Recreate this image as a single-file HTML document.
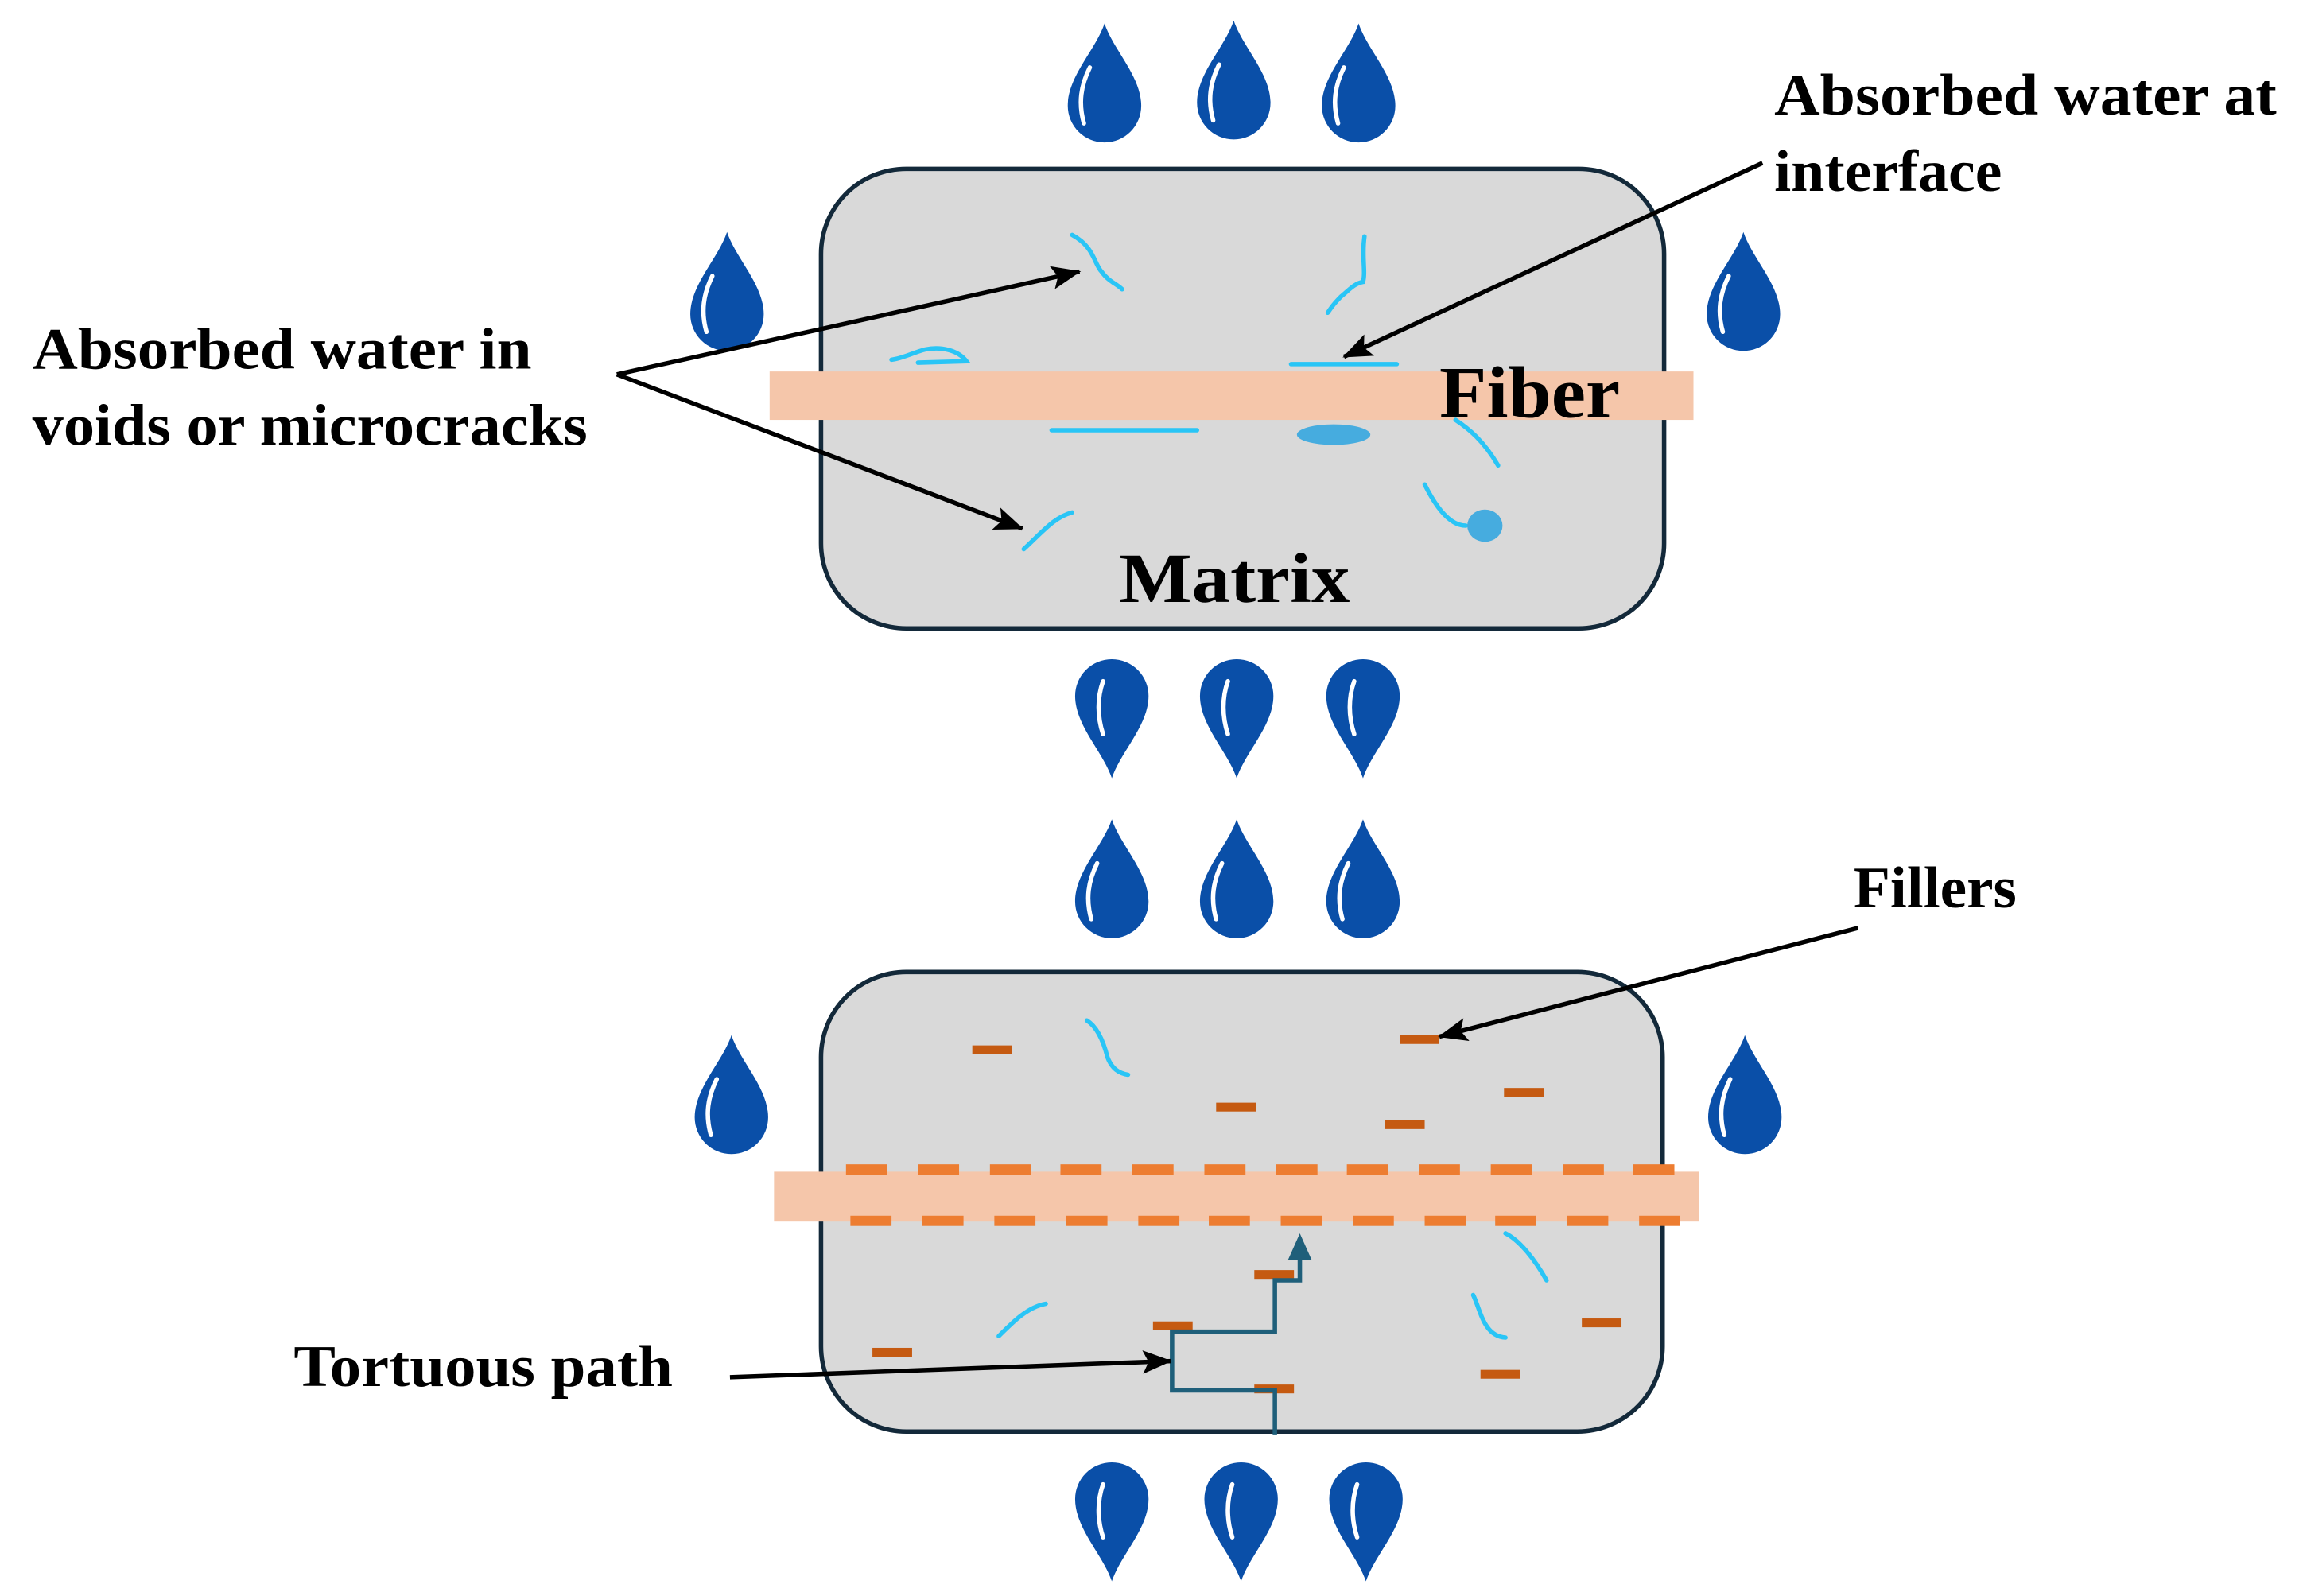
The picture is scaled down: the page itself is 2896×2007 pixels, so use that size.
<!DOCTYPE html>
<html><head><meta charset="utf-8"><style>html,body{margin:0;padding:0;background:#fff}svg{display:block}</style></head>
<body>
<svg width="2896" height="2007" viewBox="0 0 1568 1087" preserveAspectRatio="none" xmlns="http://www.w3.org/2000/svg">
<defs>
<marker id="ah" markerWidth="20" markerHeight="16" refX="19" refY="8" orient="auto" markerUnits="userSpaceOnUse" viewBox="0 0 20 16"><path d="M0,0 L20,8 L0,16 L4,8 Z" fill="#000"/></marker>
<g id="dup"><path d="M0,0 C6,18 25,36 25,56 A25,25 0 0 1 -25,56 C-25,36 -6,18 0,0 Z" fill="#0a4fa8"/><path d="M-10,30 C-16,42 -18,54 -14,68" stroke="#fff" stroke-width="3" fill="none" stroke-linecap="round"/></g>
<g id="ddn"><path d="M0,0 C6,-18 25,-36 25,-56 A25,25 0 0 0 -25,-56 C-25,-36 -6,-18 0,0 Z" fill="#0a4fa8"/><path d="M-6,-30 C-10,-42 -10,-55 -6,-66" stroke="#fff" stroke-width="3" fill="none" stroke-linecap="round"/></g>
</defs>
<rect width="1568" height="1087" fill="#fff"/>
<use href="#dup" x="752" y="16"/><use href="#dup" x="840" y="14"/><use href="#dup" x="925" y="16"/>
<use href="#dup" x="495" y="158"/><use href="#dup" x="1187" y="158"/>
<use href="#ddn" x="757" y="530"/><use href="#ddn" x="842" y="530"/><use href="#ddn" x="928" y="530"/>
<use href="#dup" x="757" y="558"/><use href="#dup" x="842" y="558"/><use href="#dup" x="928" y="558"/>
<use href="#dup" x="498" y="705"/><use href="#dup" x="1188" y="705"/>
<use href="#ddn" x="757" y="1077"/><use href="#ddn" x="845" y="1077"/><use href="#ddn" x="930" y="1077"/>

<rect x="559" y="115" width="574" height="313" rx="58" fill="#d9d9d9" stroke="#13293a" stroke-width="3"/>
<rect x="524" y="253" width="629" height="33" fill="#f5c6aa"/>
<g stroke="#29c5f6" stroke-width="3" fill="none" stroke-linecap="round">
<path d="M730,160 C745,168 745,180 750,185 C755,192 760,193 764,197"/>
<path d="M929,161 C927,175 930,185 928,192 C922,193 918,198 913,202 C908,207 906,210 904,213"/>
<path d="M607,245 C615,244 622,240 630,238 C640,236 652,238 658,246 L625,247"/>
<path d="M879,248 L951,248"/>
<path d="M716,293 L815,293"/>
<path d="M991,286 C1000,292 1010,300 1020,317"/>
<path d="M970,330 C975,340 985,358 998,358"/>
<path d="M730,349 C718,352 710,362 697,374"/>
</g>
<ellipse cx="908" cy="296" rx="25" ry="7" fill="#46acdf"/>
<ellipse cx="1011" cy="358" rx="12" ry="11" fill="#46acdf"/>
<text x="980" y="284" font-family="Liberation Serif, serif" font-weight="bold" font-size="50" textLength="123" lengthAdjust="spacingAndGlyphs">Fiber</text>
<text x="762" y="410" font-family="Liberation Serif, serif" font-weight="bold" font-size="48" textLength="157" lengthAdjust="spacingAndGlyphs">Matrix</text>
<g stroke="#000" stroke-width="3" fill="none">
<path d="M420,255 L735,185" marker-end="url(#ah)"/>
<path d="M420,255 L696,360" marker-end="url(#ah)"/>
<path d="M1200,111 L915,243" marker-end="url(#ah)"/>
</g>
<g font-family="Liberation Serif, serif" font-weight="bold" font-size="40">
<text x="22" y="251" textLength="340" lengthAdjust="spacingAndGlyphs">Absorbed water in</text>
<text x="22" y="303" textLength="378" lengthAdjust="spacingAndGlyphs">voids or microcracks</text>
<text x="1208" y="78" textLength="342" lengthAdjust="spacingAndGlyphs">Absorbed water at</text>
<text x="1208" y="130" textLength="155" lengthAdjust="spacingAndGlyphs">interface</text>
<text x="1262" y="618" textLength="111" lengthAdjust="spacingAndGlyphs">Fillers</text>
<text x="200" y="944" textLength="258" lengthAdjust="spacingAndGlyphs">Tortuous path</text>
</g>

<rect x="559" y="662" width="573" height="313" rx="58" fill="#d9d9d9" stroke="#13293a" stroke-width="3"/>
<rect x="527" y="798" width="630" height="34" fill="#f5c6aa"/>
<g fill="#ed7d31">
<rect x="576" y="793" width="28" height="7"/><rect x="625" y="793" width="28" height="7"/><rect x="674" y="793" width="28" height="7"/><rect x="722" y="793" width="28" height="7"/><rect x="771" y="793" width="28" height="7"/><rect x="820" y="793" width="28" height="7"/><rect x="869" y="793" width="28" height="7"/><rect x="917" y="793" width="28" height="7"/><rect x="966" y="793" width="28" height="7"/><rect x="1015" y="793" width="28" height="7"/><rect x="1064" y="793" width="28" height="7"/><rect x="1112" y="793" width="28" height="7"/>
<rect x="579" y="828" width="28" height="7"/><rect x="628" y="828" width="28" height="7"/><rect x="677" y="828" width="28" height="7"/><rect x="726" y="828" width="28" height="7"/><rect x="775" y="828" width="28" height="7"/><rect x="823" y="828" width="28" height="7"/><rect x="872" y="828" width="28" height="7"/><rect x="921" y="828" width="28" height="7"/><rect x="970" y="828" width="28" height="7"/><rect x="1018" y="828" width="28" height="7"/><rect x="1067" y="828" width="28" height="7"/><rect x="1116" y="828" width="28" height="7"/>
</g>
<g fill="#c55a11">
<rect x="662" y="712" width="27" height="6"/><rect x="953" y="705" width="27" height="6"/><rect x="828" y="751" width="27" height="6"/><rect x="1024" y="741" width="27" height="6"/><rect x="943" y="763" width="27" height="6"/>
<rect x="854" y="865" width="27" height="6"/><rect x="785" y="900" width="27" height="6"/><rect x="594" y="918" width="27" height="6"/><rect x="854" y="943" width="27" height="6"/><rect x="1077" y="898" width="27" height="6"/><rect x="1008" y="933" width="27" height="6"/>
</g>
<g stroke="#29c5f6" stroke-width="3" fill="none" stroke-linecap="round">
<path d="M740,695 C748,700 752,712 754,720 C757,728 762,731 768,732"/>
<path d="M712,888 C700,890 690,900 680,910"/>
<path d="M1025,840 C1035,845 1045,858 1053,872"/>
<path d="M1003,882 C1008,892 1010,910 1025,911"/>
</g>
<path d="M868,977 L868,947 L798,947 L798,907 L868,907 L868,872 L885,872 L885,856" stroke="#1f5f7a" stroke-width="3" fill="none"/>
<path d="M877,858 L885,840 L893,858 Z" fill="#1f5f7a"/>
<g stroke="#000" stroke-width="3" fill="none">
<path d="M497,938 L797,927" marker-end="url(#ah)"/>
<path d="M1265,632 L980,706" marker-end="url(#ah)"/>
</g>
</svg>
</body></html>
